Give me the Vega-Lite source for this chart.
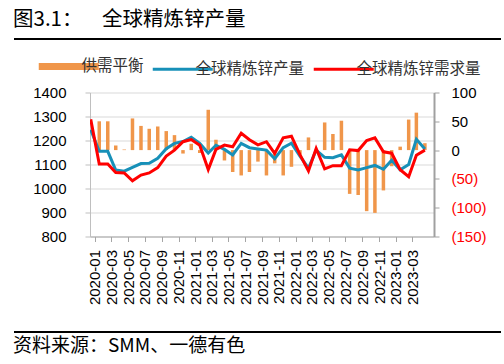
{
  "$schema": "https://vega.github.io/schema/vega-lite/v6.json",
  "padding": {"left": 13, "top": 9, "right": 0, "bottom": 0},
  "background": "white",
  "config": {"view": {"stroke": null}, "font": "Liberation Sans"},
  "datasets": {
    "zinc": [
      {"month":"2020-01","series":"供需平衡","value":50},{"month":"2020-02","series":"供需平衡","value":50},{"month":"2020-03","series":"供需平衡","value":8},{"month":"2020-04","series":"供需平衡","value":1},{"month":"2020-05","series":"供需平衡","value":55},{"month":"2020-06","series":"供需平衡","value":42},{"month":"2020-07","series":"供需平衡","value":37},{"month":"2020-08","series":"供需平衡","value":41},{"month":"2020-09","series":"供需平衡","value":33},{"month":"2020-10","series":"供需平衡","value":26},{"month":"2020-11","series":"供需平衡","value":-6},{"month":"2020-12","series":"供需平衡","value":11},
      {"month":"2021-01","series":"供需平衡","value":-5},{"month":"2021-02","series":"供需平衡","value":70},{"month":"2021-03","series":"供需平衡","value":18},{"month":"2021-04","series":"供需平衡","value":-18},{"month":"2021-05","series":"供需平衡","value":-38},{"month":"2021-06","series":"供需平衡","value":-44},{"month":"2021-07","series":"供需平衡","value":-38},{"month":"2021-08","series":"供需平衡","value":-20},{"month":"2021-09","series":"供需平衡","value":-44},{"month":"2021-10","series":"供需平衡","value":-23},{"month":"2021-11","series":"供需平衡","value":-44},{"month":"2021-12","series":"供需平衡","value":-29},
      {"month":"2022-01","series":"供需平衡","value":-8},{"month":"2022-02","series":"供需平衡","value":22},{"month":"2022-03","series":"供需平衡","value":-4},{"month":"2022-04","series":"供需平衡","value":48},{"month":"2022-05","series":"供需平衡","value":28},{"month":"2022-06","series":"供需平衡","value":51},{"month":"2022-07","series":"供需平衡","value":-76},{"month":"2022-08","series":"供需平衡","value":-78},{"month":"2022-09","series":"供需平衡","value":-106},{"month":"2022-10","series":"供需平衡","value":-109},{"month":"2022-11","series":"供需平衡","value":-70},{"month":"2022-12","series":"供需平衡","value":-28},
      {"month":"2023-01","series":"供需平衡","value":6},{"month":"2023-02","series":"供需平衡","value":53},{"month":"2023-03","series":"供需平衡","value":65},{"month":"2023-04","series":"供需平衡","value":12},
      {"month":"2019-12","series":"全球精炼锌产量","value":1245},
      {"month":"2020-01","series":"全球精炼锌产量","value":1155},{"month":"2020-02","series":"全球精炼锌产量","value":1155},{"month":"2020-03","series":"全球精炼锌产量","value":1077},{"month":"2020-04","series":"全球精炼锌产量","value":1072},{"month":"2020-05","series":"全球精炼锌产量","value":1088},{"month":"2020-06","series":"全球精炼锌产量","value":1104},{"month":"2020-07","series":"全球精炼锌产量","value":1105},{"month":"2020-08","series":"全球精炼锌产量","value":1126},{"month":"2020-09","series":"全球精炼锌产量","value":1166},{"month":"2020-10","series":"全球精炼锌产量","value":1188},{"month":"2020-11","series":"全球精炼锌产量","value":1196},{"month":"2020-12","series":"全球精炼锌产量","value":1214},
      {"month":"2021-01","series":"全球精炼锌产量","value":1188},{"month":"2021-02","series":"全球精炼锌产量","value":1148},{"month":"2021-03","series":"全球精炼锌产量","value":1180},{"month":"2021-04","series":"全球精炼锌产量","value":1163},{"month":"2021-05","series":"全球精炼锌产量","value":1140},{"month":"2021-06","series":"全球精炼锌产量","value":1188},{"month":"2021-07","series":"全球精炼锌产量","value":1170},{"month":"2021-08","series":"全球精炼锌产量","value":1165},{"month":"2021-09","series":"全球精炼锌产量","value":1160},{"month":"2021-10","series":"全球精炼锌产量","value":1124},{"month":"2021-11","series":"全球精炼锌产量","value":1170},{"month":"2021-12","series":"全球精炼锌产量","value":1189},
      {"month":"2022-01","series":"全球精炼锌产量","value":1135},{"month":"2022-02","series":"全球精炼锌产量","value":1085},{"month":"2022-03","series":"全球精炼锌产量","value":1160},{"month":"2022-04","series":"全球精炼锌产量","value":1130},{"month":"2022-05","series":"全球精炼锌产量","value":1128},{"month":"2022-06","series":"全球精炼锌产量","value":1140},{"month":"2022-07","series":"全球精炼锌产量","value":1085},{"month":"2022-08","series":"全球精炼锌产量","value":1077},{"month":"2022-09","series":"全球精炼锌产量","value":1087},{"month":"2022-10","series":"全球精炼锌产量","value":1096},{"month":"2022-11","series":"全球精炼锌产量","value":1080},{"month":"2022-12","series":"全球精炼锌产量","value":1118},
      {"month":"2023-01","series":"全球精炼锌产量","value":1078},{"month":"2023-02","series":"全球精炼锌产量","value":1100},{"month":"2023-03","series":"全球精炼锌产量","value":1205},{"month":"2023-04","series":"全球精炼锌产量","value":1165},
      {"month":"2019-12","series":"全球精炼锌需求量","value":1288},
      {"month":"2020-01","series":"全球精炼锌需求量","value":1102},{"month":"2020-02","series":"全球精炼锌需求量","value":1102},{"month":"2020-03","series":"全球精炼锌需求量","value":1067},{"month":"2020-04","series":"全球精炼锌需求量","value":1065},{"month":"2020-05","series":"全球精炼锌需求量","value":1032},{"month":"2020-06","series":"全球精炼锌需求量","value":1056},{"month":"2020-07","series":"全球精炼锌需求量","value":1065},{"month":"2020-08","series":"全球精炼锌需求量","value":1087},{"month":"2020-09","series":"全球精炼锌需求量","value":1135},{"month":"2020-10","series":"全球精炼锌需求量","value":1160},{"month":"2020-11","series":"全球精炼锌需求量","value":1195},{"month":"2020-12","series":"全球精炼锌需求量","value":1204},
      {"month":"2021-01","series":"全球精炼锌需求量","value":1180},{"month":"2021-02","series":"全球精炼锌需求量","value":1079},{"month":"2021-03","series":"全球精炼锌需求量","value":1163},{"month":"2021-04","series":"全球精炼锌需求量","value":1181},{"month":"2021-05","series":"全球精炼锌需求量","value":1174},{"month":"2021-06","series":"全球精炼锌需求量","value":1230},{"month":"2021-07","series":"全球精炼锌需求量","value":1203},{"month":"2021-08","series":"全球精炼锌需求量","value":1182},{"month":"2021-09","series":"全球精炼锌需求量","value":1195},{"month":"2021-10","series":"全球精炼锌需求量","value":1146},{"month":"2021-11","series":"全球精炼锌需求量","value":1211},{"month":"2021-12","series":"全球精炼锌需求量","value":1218},
      {"month":"2022-01","series":"全球精炼锌需求量","value":1141},{"month":"2022-02","series":"全球精炼锌需求量","value":1073},{"month":"2022-03","series":"全球精炼锌需求量","value":1167},{"month":"2022-04","series":"全球精炼锌需求量","value":1082},{"month":"2022-05","series":"全球精炼锌需求量","value":1095},{"month":"2022-06","series":"全球精炼锌需求量","value":1095},{"month":"2022-07","series":"全球精炼锌需求量","value":1161},{"month":"2022-08","series":"全球精炼锌需求量","value":1158},{"month":"2022-09","series":"全球精炼锌需求量","value":1200},{"month":"2022-10","series":"全球精炼锌需求量","value":1211},{"month":"2022-11","series":"全球精炼锌需求量","value":1153},{"month":"2022-12","series":"全球精炼锌需求量","value":1147},
      {"month":"2023-01","series":"全球精炼锌需求量","value":1078},{"month":"2023-02","series":"全球精炼锌需求量","value":1049},{"month":"2023-03","series":"全球精炼锌需求量","value":1139},{"month":"2023-04","series":"全球精炼锌需求量","value":1160}
    ]
  },
  "vconcat": [
    {
      "width": 487,
      "height": 1,
      "data": {"values": [{}]},
      "title": {"text": "图3.1：　\u00a0\u00a0全球精炼锌产量", "anchor": "start", "font": "Noto Sans CJK SC", "fontSize": 20.5, "fontWeight": "normal", "color": "#000000", "baseline": "bottom", "offset": -12},
      "mark": {"type": "rule", "color": "#000000", "strokeWidth": 2},
      "encoding": {"y": {"datum": 0, "type": "quantitative", "scale": {"domain": [0, 1]}, "axis": null}}
    },
    {
      "spacing": 0,
      "hconcat": [
        {
          "width": 1,
          "height": 1,
          "data": {"values": [{}]},
          "mark": {"type": "point", "opacity": 0, "size": 0, "strokeWidth": 0},
          "encoding": {}
        },
        {
          "width": 344,
          "height": 144,
          "data": {"name": "zinc", "format": {"parse": {"month": "utc:'%Y-%m'"}}},
          "encoding": {
            "x": {
              "field": "month",
              "type": "temporal",
              "scale": {"type": "utc", "nice": false, "domain": [{"year": 2019, "month": 12, "date": 16, "hours": 12, "utc": true}, {"year": 2023, "month": 4, "date": 16, "utc": true}]},
              "axis": {
                "title": null,
                "values": [
                  {"year": 2020, "month": 1, "date": 1, "utc": true}, {"year": 2020, "month": 3, "date": 1, "utc": true}, {"year": 2020, "month": 5, "date": 1, "utc": true}, {"year": 2020, "month": 7, "date": 1, "utc": true}, {"year": 2020, "month": 9, "date": 1, "utc": true}, {"year": 2020, "month": 11, "date": 1, "utc": true},
                  {"year": 2021, "month": 1, "date": 1, "utc": true}, {"year": 2021, "month": 3, "date": 1, "utc": true}, {"year": 2021, "month": 5, "date": 1, "utc": true}, {"year": 2021, "month": 7, "date": 1, "utc": true}, {"year": 2021, "month": 9, "date": 1, "utc": true}, {"year": 2021, "month": 11, "date": 1, "utc": true},
                  {"year": 2022, "month": 1, "date": 1, "utc": true}, {"year": 2022, "month": 3, "date": 1, "utc": true}, {"year": 2022, "month": 5, "date": 1, "utc": true}, {"year": 2022, "month": 7, "date": 1, "utc": true}, {"year": 2022, "month": 9, "date": 1, "utc": true}, {"year": 2022, "month": 11, "date": 1, "utc": true},
                  {"year": 2023, "month": 1, "date": 1, "utc": true}, {"year": 2023, "month": 3, "date": 1, "utc": true}
                ],
                "labelExpr": "utcFormat(datum.value, '%Y-%m')",
                "labelAngle": -90,
                "labelFontSize": 15,
                "labelColor": "#000000",
                "labelPadding": 8,
                "labelOverlap": false,
                "labelFlush": false,
                "labelBound": false,
                "tickSize": 5,
                "tickOffset": -4.3,
                "tickColor": "#A6A6A6",
                "domainColor": "#A6A6A6",
                "grid": false,
                "minExtent": 76
              }
            }
          },
          "layer": [
            {
              "transform": [{"filter": "datum.series === '供需平衡'"}],
              "mark": {"type": "bar", "size": 3.5},
              "encoding": {
                "y": {
                  "field": "value", "type": "quantitative",
                  "scale": {"domain": [-150, 100], "nice": false, "zero": false},
                  "axis": {
                    "orient": "right", "title": null, "grid": false,
                    "values": [-150, -100, -50, 0, 50, 100],
                    "labelExpr": "datum.value < 0 ? '(' + format(-datum.value, 'd') + ')' : format(datum.value, 'd')",
                    "labelColor": {"condition": {"test": "datum.value < 0", "value": "#FF0000"}, "value": "#000000"},
                    "labelFontSize": 15, "labelPadding": 12,
                    "tickSize": 5, "tickColor": "#A0A0A0",
                    "domainColor": "#A0A0A0", "domainWidth": 2
                  }
                },
                "color": {
                  "field": "series", "type": "nominal",
                  "scale": {"domain": ["供需平衡", "全球精炼锌产量", "全球精炼锌需求量"], "range": ["#F0964A", "#1790B8", "#FF0000"]},
                  "legend": {"title": null, "orient": "none", "legendX": -29, "legendY": -34, "direction": "horizontal", "symbolType": "stroke", "symbolSize": 3600, "symbolStrokeWidth": {"expr": "datum.value === '供需平衡' ? 7 : 3"}, "labelFont": "Noto Sans CJK SC", "labelFontSize": 15.5, "labelColor": "#333333", "labelOffset": 5, "columnPadding": 2, "padding": 0, "labelLimit": 300}
                }
              }
            },
            {
              "transform": [{"filter": "datum.series !== '供需平衡'"}],
              "mark": {"type": "line", "strokeWidth": 3, "clip": true},
              "encoding": {
                "y": {
                  "field": "value", "type": "quantitative",
                  "scale": {"domain": [800, 1400], "nice": false, "zero": false},
                  "axis": {
                    "orient": "left", "title": null, "grid": true, "gridColor": "#D9D9D9",
                    "values": [800, 900, 1000, 1100, 1200, 1300, 1400],
                    "format": "d",
                    "labelFontSize": 15, "labelColor": "#000000", "labelPadding": 19,
                    "tickSize": 5, "tickColor": "#BFBFBF", "domainColor": "#BFBFBF",
                    "minExtent": 75
                  }
                },
                "color": {
                  "field": "series", "type": "nominal",
                  "scale": {"domain": ["供需平衡", "全球精炼锌产量", "全球精炼锌需求量"], "range": ["#F0964A", "#1790B8", "#FF0000"]},
                  "legend": {"title": null, "orient": "none", "legendX": -29, "legendY": -34, "direction": "horizontal", "symbolType": "stroke", "symbolSize": 3600, "symbolStrokeWidth": {"expr": "datum.value === '供需平衡' ? 7 : 3"}, "labelFont": "Noto Sans CJK SC", "labelFontSize": 15.5, "labelColor": "#333333", "labelOffset": 5, "columnPadding": 2, "padding": 0, "labelLimit": 300}
                }
              }
            }
          ],
          "resolve": {"scale": {"y": "independent"}}
        }
      ],
      "resolve": {"scale": {"color": "independent"}, "legend": {"color": "independent"}}
    },
    {
      "width": 487,
      "height": 1,
      "data": {"values": [{}]},
      "title": {"text": "资料来源：SMM、一德有色", "orient": "bottom", "anchor": "start", "font": "Noto Sans CJK SC", "fontSize": 19, "fontWeight": "normal", "color": "#000000", "baseline": "top", "offset": 4},
      "mark": {"type": "rule", "color": "#000000", "strokeWidth": 2},
      "encoding": {"y": {"datum": 0, "type": "quantitative", "scale": {"domain": [0, 1]}, "axis": null}}
    }
  ],
  "resolve": {"scale": {"color": "independent"}, "legend": {"color": "independent"}},
  "spacing": 18.5
}
